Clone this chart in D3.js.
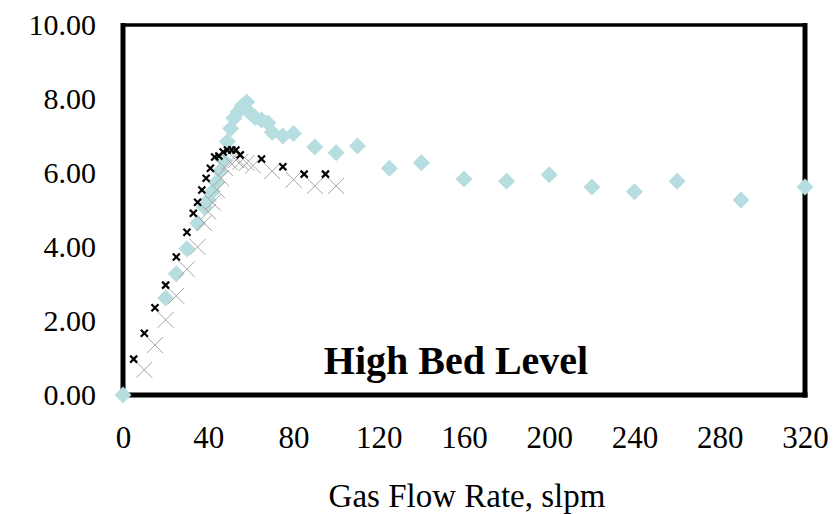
<!DOCTYPE html>
<html>
<head>
<meta charset="utf-8">
<script src="https://cdn.jsdelivr.net/npm/d3@7"></script>
<style>
  body { margin: 0; background: #fff; }
  svg { display: block; font-family: "Liberation Serif", "Times New Roman", serif; }
</style>
</head>
<body>
<div id="chart"></div>
<script>
// Series
var diamondX = [0, 20, 25, 30, 35, 38, 40, 42, 44, 45.5, 47, 49, 50.5, 52, 54, 56, 58, 60, 62, 65, 68, 70, 75, 80, 90, 100, 110, 125, 140, 160, 180, 200, 220, 240, 260, 290, 320];
var diamondY = [0, 2.62, 3.28, 3.95, 4.65, 5.08, 5.27, 5.5, 5.76, 6.05, 6.35, 6.85, 7.2, 7.48, 7.65, 7.82, 7.92, 7.6, 7.5, 7.43, 7.35, 7.1, 7.0, 7.07, 6.7, 6.55, 6.73, 6.13, 6.28, 5.84, 5.78, 5.95, 5.62, 5.49, 5.78, 5.27, 5.62];

var blackX = [5, 10, 15, 20, 25, 30, 33, 35, 37, 39, 41, 43, 45, 47, 49, 51, 53, 55, 65, 75, 85, 95];
var blackY = [0.97, 1.67, 2.36, 2.97, 3.73, 4.40, 4.91, 5.21, 5.54, 5.86, 6.13, 6.43, 6.46, 6.57, 6.62, 6.62, 6.62, 6.49, 6.38, 6.17, 5.97, 5.97];

var grayX = [10, 15, 20, 25, 30, 35, 38, 40, 42, 44, 46, 48, 50, 53, 55, 58, 61, 70, 80, 90, 100];
var grayY = [0.68, 1.35, 2.03, 2.68, 3.40, 4.0, 4.65, 4.95, 5.2, 5.54, 5.86, 6.13, 6.3, 6.35, 6.3, 6.27, 6.2, 6.05, 5.82, 5.65, 5.65];

var xTicks = [0, 40, 80, 120, 160, 200, 240, 280, 320];
var yTicks = [0, 2, 4, 6, 8, 10];

function drawChart() {
	var svgWidth = 836;
	var svgHeight = 514;

	var svg = d3.select('#chart').append('svg').attr('width', svgWidth).attr('height', svgHeight);

	// plot area edges
	var plot = { left: 123, right: 805, top: 25, bottom: 395 };

	var x = d3.scaleLinear().domain([0, 320]).range([plot.left, plot.right]);
	var y = d3.scaleLinear().domain([0, 10]).range([plot.bottom, plot.top]);

	function zip(xs, ys) {
		return xs.map(function(v, i) { return { x: v, y: ys[i] }; });
	}

	// Frame
	var frame = svg.append('g');
	frame.append('line').attr('x1', plot.left - 2).attr('x2', plot.right + 2).attr('y1', plot.top).attr('y2', plot.top)
		.attr('stroke', '#000').attr('stroke-width', 3.5);
	frame.append('line').attr('x1', plot.left).attr('x2', plot.left).attr('y1', plot.top - 2).attr('y2', plot.bottom + 2.5)
		.attr('stroke', '#000').attr('stroke-width', 5);
	frame.append('line').attr('x1', plot.right).attr('x2', plot.right).attr('y1', plot.top - 2).attr('y2', plot.bottom + 2.5)
		.attr('stroke', '#000').attr('stroke-width', 5);
	frame.append('line').attr('x1', plot.left - 2.5).attr('x2', plot.right + 2.5).attr('y1', plot.bottom).attr('y2', plot.bottom)
		.attr('stroke', '#000').attr('stroke-width', 5);

	// Axes (labels only, the frame draws the lines)
	var xAxis = svg.append('g')
		.attr('transform', 'translate(0,' + (plot.bottom + 31) + ')')
		.call(d3.axisBottom(x).tickValues(xTicks).tickSize(0).tickPadding(0).tickFormat(d3.format('d')));
	xAxis.select('.domain').remove();
	xAxis.selectAll('text').attr('font-size', 31).attr('fill', '#000')
		.attr('font-family', '"Liberation Serif", "Times New Roman", serif');

	var yAxis = svg.append('g')
		.attr('transform', 'translate(' + 96 + ',0)')
		.call(d3.axisLeft(y).tickValues(yTicks).tickSize(0).tickPadding(0).tickFormat(d3.format('.2f')));
	yAxis.select('.domain').remove();
	yAxis.selectAll('text').attr('font-size', 30).attr('fill', '#000')
		.attr('font-family', '"Liberation Serif", "Times New Roman", serif');

	// Diamonds
	var ds = 8.5;
	svg.append('g').selectAll('path')
		.data(zip(diamondX, diamondY))
		.enter()
		.append('path')
		.attr('d', function(d) {
			var cx = x(d.x), cy = y(d.y);
			return 'M' + cx + ',' + (cy - ds) + 'L' + (cx + ds) + ',' + cy + 'L' + cx + ',' + (cy + ds) + 'L' + (cx - ds) + ',' + cy + 'Z';
		})
		.attr('fill', '#b6dde0');

	// Big gray crosses
	var gs = 8;
	svg.append('g').selectAll('path')
		.data(zip(grayX, grayY))
		.enter()
		.append('path')
		.attr('d', function(d) {
			var cx = x(d.x), cy = y(d.y);
			return 'M' + (cx - gs) + ',' + (cy - gs) + 'L' + (cx + gs) + ',' + (cy + gs) +
				'M' + (cx - gs) + ',' + (cy + gs) + 'L' + (cx + gs) + ',' + (cy - gs);
		})
		.attr('stroke', '#a6a6a6')
		.attr('stroke-width', 1)
		.attr('fill', 'none');

	// Small black crosses
	var bs = 3.5;
	svg.append('g').selectAll('path')
		.data(zip(blackX, blackY))
		.enter()
		.append('path')
		.attr('d', function(d) {
			var cx = x(d.x), cy = y(d.y);
			return 'M' + (cx - bs) + ',' + (cy - bs) + 'L' + (cx + bs) + ',' + (cy + bs) +
				'M' + (cx - bs) + ',' + (cy + bs) + 'L' + (cx + bs) + ',' + (cy - bs);
		})
		.attr('stroke', '#000')
		.attr('stroke-width', 2.2)
		.attr('fill', 'none');

	// Panel label
	svg.append('text')
		.attr('x', 456)
		.attr('y', 374)
		.attr('text-anchor', 'middle')
		.attr('font-size', 40)
		.attr('font-weight', 'bold')
		.text('High Bed Level');

	// Axis title
	svg.append('text')
		.attr('x', 467)
		.attr('y', 507)
		.attr('text-anchor', 'middle')
		.attr('font-size', 33)
		.text('Gas Flow Rate, slpm');
}

drawChart();
</script>
</body>
</html>
